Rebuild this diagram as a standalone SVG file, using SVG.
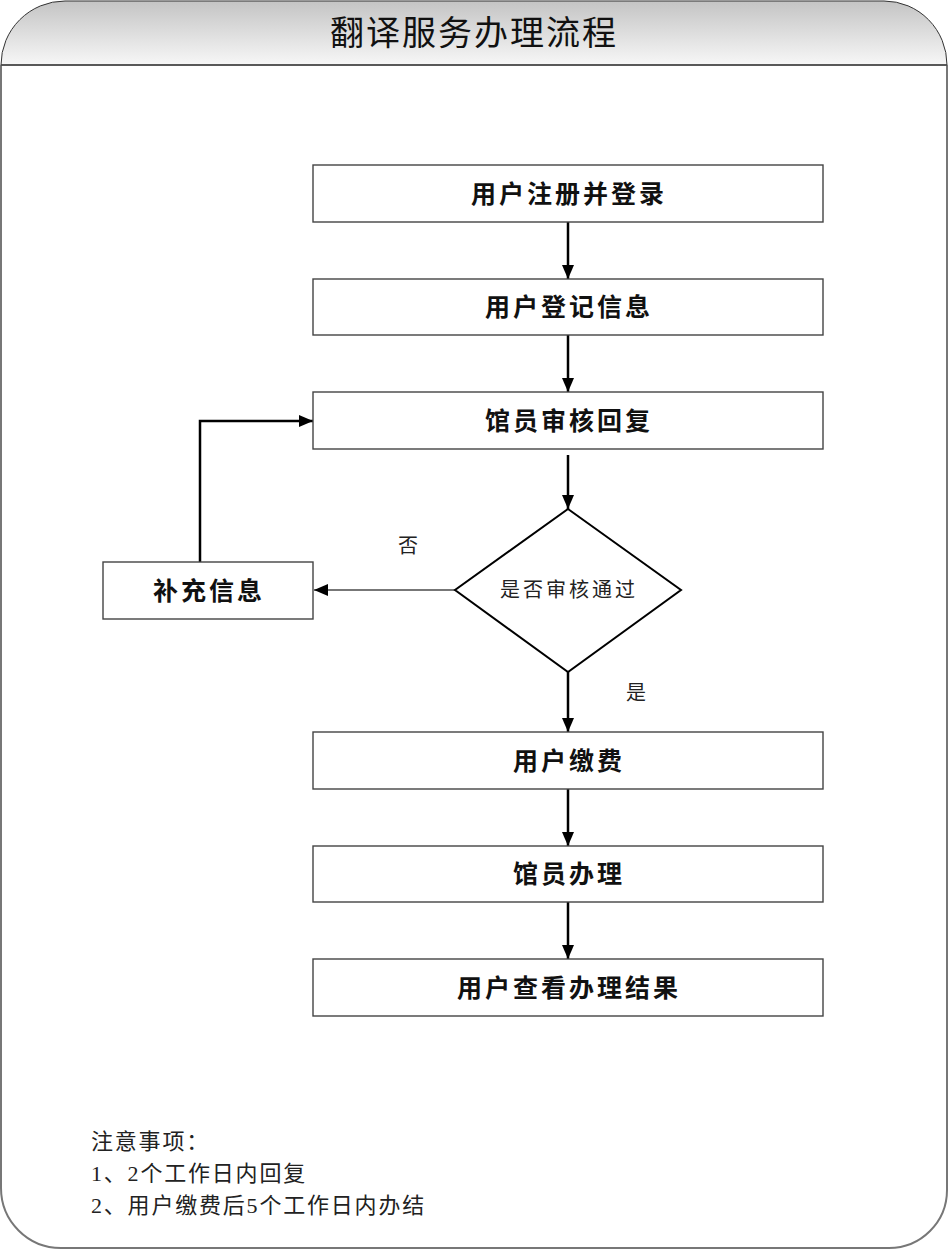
<svg xmlns="http://www.w3.org/2000/svg" width="949" height="1250" viewBox="0 0 949 1250">
<defs>
<linearGradient id="hdr" x1="0" y1="0" x2="0" y2="1">
<stop offset="0" stop-color="#c4c4c4"/>
<stop offset="1" stop-color="#f7f7f7"/>
</linearGradient>
<marker id="ah" viewBox="0 0 14 12" refX="14" refY="6" markerWidth="14" markerHeight="12" markerUnits="userSpaceOnUse" orient="auto">
<path d="M0,0 L14,6 L0,12 Z" fill="#000"/>
</marker>
<marker id="ahs" viewBox="0 0 14 12" refX="14" refY="6" markerWidth="14" markerHeight="12" markerUnits="userSpaceOnUse" orient="auto">
<path d="M0,0 L14,6 L0,12 Z" fill="#000"/>
</marker>
</defs>
<style>
.box{fill:#fff;stroke:#444;stroke-width:1.4}
.lbl{font-family:"Liberation Serif","Noto Sans CJK SC",serif;font-size:25px;font-weight:bold;text-anchor:middle;fill:#111;letter-spacing:3px}
.small{font-family:"Liberation Serif","Noto Sans CJK SC",serif;font-size:20px;fill:#222}
.note{font-family:"Liberation Serif","Noto Sans CJK SC",serif;font-size:22px;fill:#222;letter-spacing:1.8px}
.con{fill:none;stroke:#000;stroke-width:2.5}
.con2{fill:none;stroke:#777;stroke-width:2}
</style>
<rect x="0" y="0" width="949" height="1250" fill="#fff"/>
<g id="frame">
<path d="M1,65 A64,64 0 0 1 65,1 L884,1 A63,64 0 0 1 947,65 Z" fill="url(#hdr)" stroke="#333" stroke-width="1"/>
<path d="M1,65 L1,1188 A60,60 0 0 0 61,1248 L889,1248 A58,58 0 0 0 947,1190 L947,65" fill="none" stroke="#777" stroke-width="2"/>
<line x1="1" y1="65" x2="947" y2="65" stroke="#444" stroke-width="1.5"/>
<text x="474" y="45" font-family="Liberation Serif,'Noto Sans CJK SC',serif" font-size="34" text-anchor="middle" fill="#111" letter-spacing="2">翻译服务办理流程</text>
</g>
<g id="connectors">
<line class="con" x1="568" y1="222" x2="568" y2="279" marker-end="url(#ah)"/>
<line class="con" x1="568" y1="335" x2="568" y2="392" marker-end="url(#ah)"/>
<line class="con" x1="568" y1="455" x2="568" y2="509" marker-end="url(#ah)"/>
<line class="con" x1="568" y1="672" x2="568" y2="732" marker-end="url(#ah)"/>
<line class="con" x1="568" y1="789" x2="568" y2="846" marker-end="url(#ah)"/>
<line class="con" x1="568" y1="902" x2="568" y2="959" marker-end="url(#ah)"/>
<line class="con2" x1="455" y1="590" x2="314" y2="590" marker-end="url(#ahs)"/>
<polyline class="con" points="200,562 200,421 313,421" marker-end="url(#ah)"/>
<text class="small" x="408" y="553" text-anchor="middle">否</text>
<text class="small" x="636" y="700" text-anchor="middle">是</text>
</g>
<g id="n1"><rect class="box" x="313" y="165" width="510" height="57"/><text class="lbl" x="569" y="203">用户注册并登录</text></g>
<g id="n2"><rect class="box" x="313" y="279" width="510" height="56"/><text class="lbl" x="569" y="316">用户登记信息</text></g>
<g id="n3"><rect class="box" x="313" y="392" width="510" height="57"/><text class="lbl" x="569" y="430">馆员审核回复</text></g>
<g id="n4"><path d="M568,509 L681,590 L568,672 L455,590 Z" fill="#fff" stroke="#000" stroke-width="2"/><text class="small" x="569" y="597" text-anchor="middle" font-size="21" letter-spacing="3">是否审核通过</text></g>
<g id="n5"><rect class="box" x="103" y="562" width="210" height="57"/><text class="lbl" x="209" y="600">补充信息</text></g>
<g id="n6"><rect class="box" x="313" y="732" width="510" height="57"/><text class="lbl" x="569" y="770">用户缴费</text></g>
<g id="n7"><rect class="box" x="313" y="846" width="510" height="56"/><text class="lbl" x="569" y="883">馆员办理</text></g>
<g id="n8"><rect class="box" x="313" y="959" width="510" height="57"/><text class="lbl" x="569" y="997">用户查看办理结果</text></g>
<g id="notes">
<text class="note" x="91" y="1149">注意事项：</text>
<text class="note" x="91" y="1181">1、2个工作日内回复</text>
<text class="note" x="91" y="1213">2、用户缴费后5个工作日内办结</text>
</g>
</svg>
